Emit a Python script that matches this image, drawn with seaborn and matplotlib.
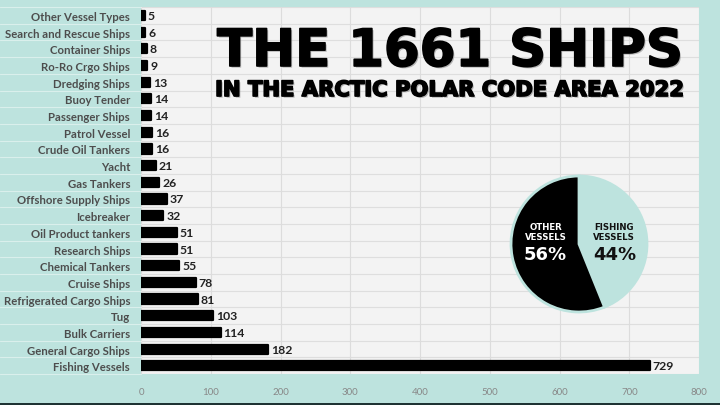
import numpy as np
import pandas as pd
import matplotlib
matplotlib.use("Agg")
import matplotlib.pyplot as plt
import matplotlib.patheffects as pe
from matplotlib.patches import Rectangle
import seaborn as sns

# data (top row first)
vessel_types = ["Other Vessel Types", "Search and Rescue Ships", "Container Ships",
                "Ro-Ro Crgo Ships", "Dredging Ships", "Buoy Tender", "Passenger Ships",
                "Patrol Vessel", "Crude Oil Tankers", "Yacht", "Gas Tankers",
                "Offshore Supply Ships", "Icebreaker", "Oil Product tankers",
                "Research Ships", "Chemical Tankers", "Cruise Ships",
                "Refrigerated Cargo Ships", "Tug", "Bulk Carriers",
                "General Cargo Ships", "Fishing Vessels"]
ship_counts = [5, 6, 8, 9, 13, 14, 14, 16, 16, 21, 26, 37, 32, 51, 51, 55, 78, 81,
               103, 114, 182, 729]
x_ticks = [0, 100, 200, 300, 400, 500, 600, 700, 800]
pie_names = ["FISHING\nVESSELS", "OTHER\nVESSELS"]

title = "THE 1661 SHIPS"
subtitle = "IN THE ARCTIC POLAR CODE AREA 2022"

teal = "#bde3de"

sns.set_theme(style="whitegrid")
plt.rcParams["font.family"] = ["Lato", "DejaVu Sans"]

fig = plt.figure(figsize=(7.2, 4.06), dpi=100, facecolor=teal)
ax = fig.add_axes([0.196, 0.076, 0.775, 0.904])
ax.set_facecolor("#f3f3f3")

df = pd.DataFrame({"type": vessel_types, "count": ship_counts})
sns.barplot(data=df, x="count", y="type", color="black", width=0.55,
            edgecolor="black", linewidth=1.6, ax=ax)
for p in ax.patches:
    p.set_joinstyle("round")
ax.bar_label(ax.containers[0], padding=2, fontsize=8.8, fontweight="bold", color="#222222")

ax.set_xlim(0, 800)
ax.set_ylim(len(vessel_types) - 0.5, -0.5)
ax.set_xticks(x_ticks)
ax.set_xlabel("")
ax.set_ylabel("")
ax.grid(axis="x", color="#dcdcdc", lw=0.8)
ax.grid(axis="y", visible=False)
for s in ax.spines.values():
    s.set_visible(False)

# row separators, also running under the label column
for y in np.arange(-0.5, len(vessel_types)):
    ax.axhline(y, color="#dedede", lw=0.8, zorder=0)
    ax.axhline(y, xmin=-0.253, xmax=0, color="white", alpha=0.45, lw=0.8, clip_on=False)

ax.tick_params(axis="y", length=0, pad=8, labelsize=8.2, labelcolor="#4d4d4d")
for t in ax.get_yticklabels():
    t.set_fontweight("bold")
ax.tick_params(axis="x", length=0, pad=9, labelsize=7, labelcolor="#888888")

shadow = [pe.SimplePatchShadow(offset=(1.2, -1.2), shadow_rgbFace="#777777", alpha=0.5),
          pe.withStroke(linewidth=1.2, foreground="black")]
fig.text(0.625, 0.835, title, ha="center", va="baseline", fontsize=37,
         fontweight="bold", family="DejaVu Sans", color="black", path_effects=shadow)
fig.text(0.626, 0.761, subtitle, ha="center", va="baseline", fontsize=15.2,
         fontweight="bold", family="DejaVu Sans", color="black", path_effects=shadow)

# pie: fishing vs everything else
fishing = ship_counts[vessel_types.index("Fishing Vessels")]
others = sum(ship_counts) - fishing
pie_vals = [fishing, others]
axp = fig.add_axes([494 / 720, 1 - 330 / 406, 170 / 720, 170 / 406])
axp.pie(pie_vals, colors=[teal, "black"], startangle=90, counterclock=False,
        wedgeprops=dict(edgecolor=teal, linewidth=2))
axp.set_aspect("equal")
pcts = [round(v / sum(pie_vals) * 100) for v in pie_vals]
pie_font = dict(ha="center", va="center", fontweight="bold", family="DejaVu Sans")
axp.text(0.52, 0.18, pie_names[0], fontsize=6.2, color="#111111", linespacing=1.15, **pie_font)
axp.text(0.52, -0.15, f"{pcts[0]}%", fontsize=13, color="#111111", **pie_font)
axp.text(-0.49, 0.18, pie_names[1], fontsize=6.2, color="white", linespacing=1.15, **pie_font)
axp.text(-0.49, -0.14, f"{pcts[1]}%", fontsize=13, color="white", **pie_font)

fig.add_artist(Rectangle((0, 0), 1, 2 / 406, transform=fig.transFigure,
                         color="#1f3333", lw=0))

fig.savefig("out.png", dpi=100, facecolor=teal)
